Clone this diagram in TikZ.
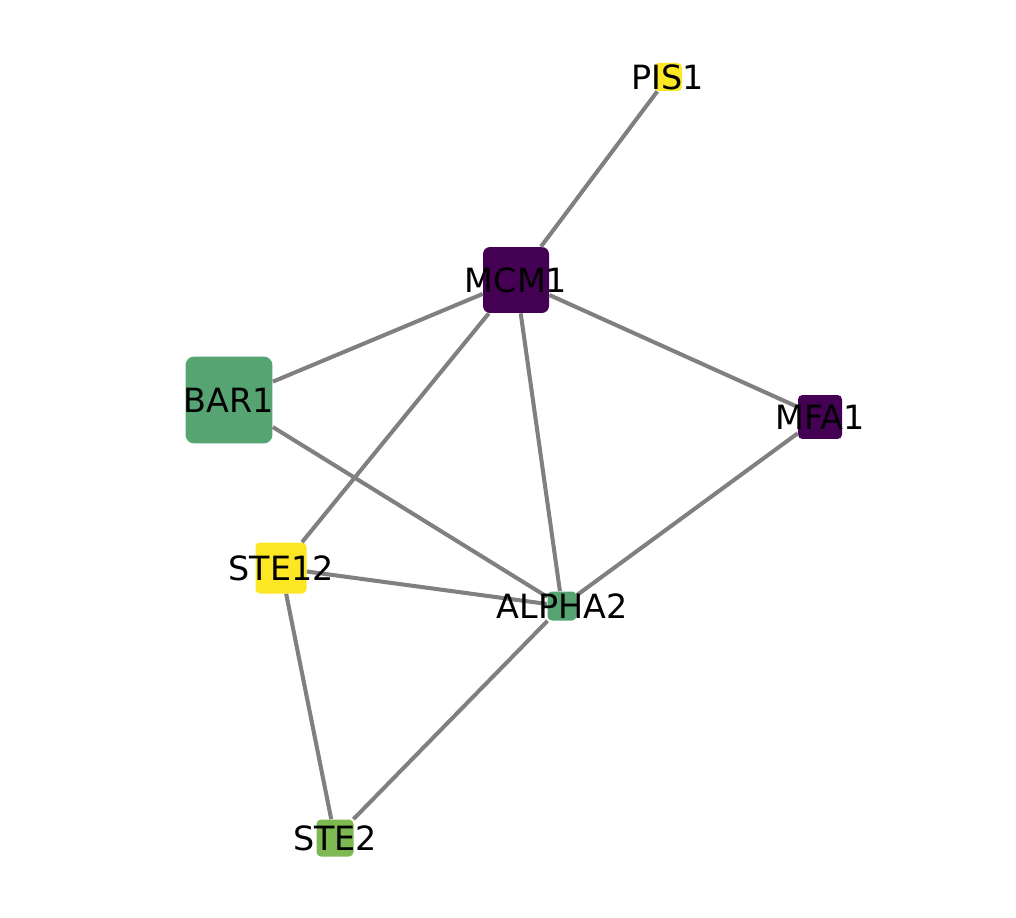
\documentclass[tikz,border=0pt]{standalone}
\usepackage{fontspec}
\setmainfont{DejaVu Sans}
\definecolor{vpurple}{RGB}{68,1,84}
\definecolor{vgreen}{RGB}{86,164,113}
\definecolor{vlime}{RGB}{126,184,82}
\definecolor{vyellow}{RGB}{253,231,37}
\definecolor{edgegray}{RGB}{128,128,128}

\begin{document}
\begin{tikzpicture}[x=0.02cm, y=-0.02cm]
\tikzset{
  gene/.style={
    draw=none, rectangle, rounded corners=2.5pt,
    inner sep=0pt
  },
  link/.style={draw=edgegray, line width=2.3pt},
  genelabel/.style={font=\fontsize{19}{23}\selectfont, inner sep=0pt}
}
\useasboundingbox (0,0) rectangle (1016,918);

\node[gene, fill=vyellow, minimum size=0.56cm]  (pis)   at (668, 77)  {};
\node[gene, fill=vpurple, minimum size=1.32cm, rounded corners=4pt] (mcm) at (516, 280) {};
\node[gene, fill=vgreen,  minimum size=1.74cm, rounded corners=5pt] (bar) at (229, 400) {};
\node[gene, fill=vpurple, minimum size=0.88cm]  (mfa)   at (820, 417) {};
\node[gene, fill=vyellow, minimum size=1.02cm]  (ste12) at (281, 568) {};
\node[gene, fill=vgreen,  minimum size=0.58cm]  (alpha) at (562, 606) {};
\node[gene, fill=vlime,   minimum size=0.74cm]  (ste2)  at (335, 838) {};

\draw[link] (pis) -- (mcm);
\draw[link] (mcm) -- (bar);
\draw[link] (mcm) -- (ste12);
\draw[link] (mcm) -- (alpha);
\draw[link] (mcm) -- (mfa);
\draw[link] (bar) -- (alpha);
\draw[link] (mfa) -- (alpha);
\draw[link] (ste12) -- (alpha);
\draw[link] (ste12) -- (ste2);
\draw[link] (alpha) -- (ste2);

\node[genelabel] (pisl)   at (pis)   {PIS1};
\node[genelabel] (mcml)   at (mcm)   {MCM1};
\node[genelabel] (barl)   at (bar)   {BAR1};
\node[genelabel] (mfal)   at (mfa)   {MFA1};
\node[genelabel] (ste12l) at (ste12) {STE12};
\node[genelabel] (alphal) at (alpha) {ALPHA2};
\node[genelabel] (ste2l)  at (ste2)  {STE2};
\end{tikzpicture}
\end{document}
